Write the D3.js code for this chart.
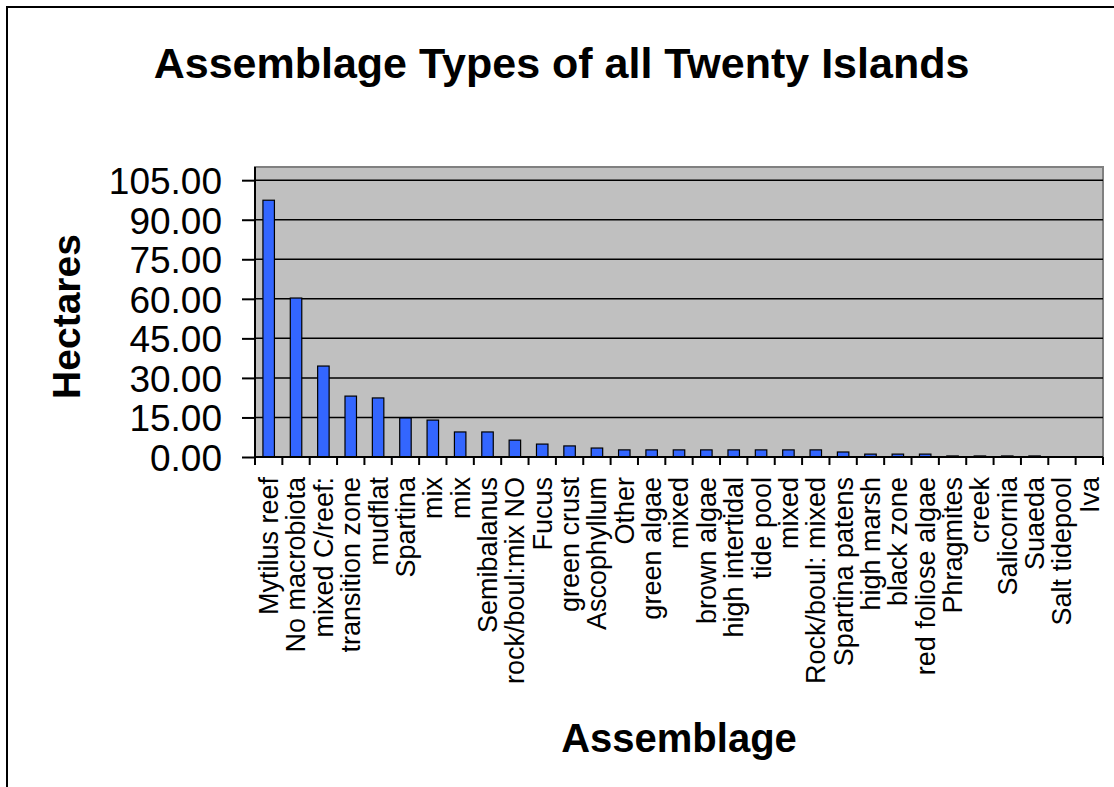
<!DOCTYPE html>
<html>
<head>
<meta charset="utf-8">
<script src="https://cdn.jsdelivr.net/npm/d3@7"></script>
<style>
  html, body { margin: 0; padding: 0; background: #fff; }
  svg { display: block; }
  text { font-family: "Liberation Sans", Arial, sans-serif; fill: #000; }
</style>
</head>
<body>
<svg id="chart" width="1114" height="787"></svg>
<script>
const categories = ["Mytilus reef", "No macrobiota", "mixed C/reef:", "transition zone", "mudflat",
  "Spartina", "mix", "mix", "Semibalanus", "rock/boul:mix NO", "Fucus", "green crust",
  "Ascophyllum", "Other", "green algae", "mixed", "brown algae", "high intertidal", "tide pool",
  "mixed", "Rock/boul: mixed", "Spartina patens", "high marsh", "black zone", "red foliose algae",
  "Phragmites", "creek", "Salicornia", "Suaeda", "Salt tidepool", "Iva"];
const hectares = [97.4, 60.3, 34.5, 23.1, 22.4, 14.8, 14.0, 9.5, 9.5, 6.4, 4.9, 4.2,
  3.4, 2.7, 2.7, 2.7, 2.7, 2.7, 2.7, 2.7, 2.7, 1.9, 1.1, 1.1, 1.1,
  0.4, 0.4, 0.4, 0.4, 0, 0];
const yTicks = [0, 15, 30, 45, 60, 75, 90, 105];
const chartTitle = "Assemblage Types of all Twenty Islands";
const yTitle = "Hectares";
const xTitle = "Assemblage";

const svg = d3.select("#chart");
const plot = { left: 255, right: 1103, top: 167, bottom: 457 };

// outer chart border
svg.append("rect").attr("x", 7).attr("y", 7).attr("width", 1120).attr("height", 800)
  .attr("fill", "#fff").attr("stroke", "#000").attr("stroke-width", 2);

const x = d3.scaleBand().domain(d3.range(categories.length))
  .range([plot.left, plot.right]).paddingInner(0.58).paddingOuter(0.29);
const y = d3.scaleLinear().domain([0, 110]).range([plot.bottom, plot.top]);

// plot area
svg.append("rect").attr("x", plot.left).attr("y", plot.top)
  .attr("width", plot.right - plot.left).attr("height", plot.bottom - plot.top)
  .attr("fill", "#C0C0C0").attr("stroke", "#808080").attr("stroke-width", 2);

// gridlines
svg.append("g").selectAll("line").data(yTicks.filter(d => d > 0)).join("line")
  .attr("x1", plot.left).attr("x2", plot.right)
  .attr("y1", d => y(d)).attr("y2", d => y(d))
  .attr("stroke", "#000").attr("stroke-width", 1.5);

// bars
svg.append("g").selectAll("rect").data(hectares).join("rect")
  .attr("x", (d, i) => x(i)).attr("width", x.bandwidth())
  .attr("y", d => y(d)).attr("height", d => y(0) - y(d))
  .attr("fill", "#3366FF").attr("stroke", "#000").attr("stroke-width", 1.2);

// y axis
const yAxis = d3.axisLeft(y).tickValues(yTicks).tickFormat(d3.format(".2f"))
  .tickSize(13).tickPadding(20);
const yg = svg.append("g").attr("transform", `translate(${plot.left},0)`).call(yAxis);
yg.select(".domain").attr("stroke", "#000").attr("stroke-width", 2)
  .attr("d", `M0,${plot.top}V${plot.bottom}`);
yg.selectAll(".tick line").attr("stroke", "#000").attr("stroke-width", 2);
yg.selectAll(".tick text").attr("font-size", 37).attr("font-family", "Liberation Sans, Arial, sans-serif")
  .attr("dy", "0.36em");

// x axis line + ticks at band boundaries
const step = x.step();
const bounds = d3.range(categories.length + 1).map(i => plot.left + i * (plot.right - plot.left) / categories.length);
svg.append("line").attr("x1", plot.left).attr("x2", plot.right)
  .attr("y1", plot.bottom).attr("y2", plot.bottom).attr("stroke", "#000").attr("stroke-width", 2);
svg.append("g").selectAll("line").data(bounds).join("line")
  .attr("x1", d => d).attr("x2", d => d).attr("y1", plot.bottom).attr("y2", plot.bottom + 8)
  .attr("stroke", "#000").attr("stroke-width", 2);

// x labels
svg.append("g").selectAll("text").data(categories).join("text")
  .attr("transform", (d, i) => `translate(${x(i) + x.bandwidth() / 2},477) rotate(-90)`)
  .attr("text-anchor", "end").attr("dy", "0.35em")
  .attr("font-size", 27).text(d => d);

// titles
svg.append("text").attr("x", 561.5).attr("y", 78).attr("text-anchor", "middle")
  .attr("font-size", 43).attr("font-weight", "bold").text(chartTitle);
svg.append("text").attr("transform", "translate(80,316.5) rotate(-90)")
  .attr("text-anchor", "middle").attr("font-size", 39).attr("font-weight", "bold").text(yTitle);
svg.append("text").attr("x", 679).attr("y", 752).attr("text-anchor", "middle")
  .attr("font-size", 40).attr("font-weight", "bold").text(xTitle);
</script>
</body>
</html>
